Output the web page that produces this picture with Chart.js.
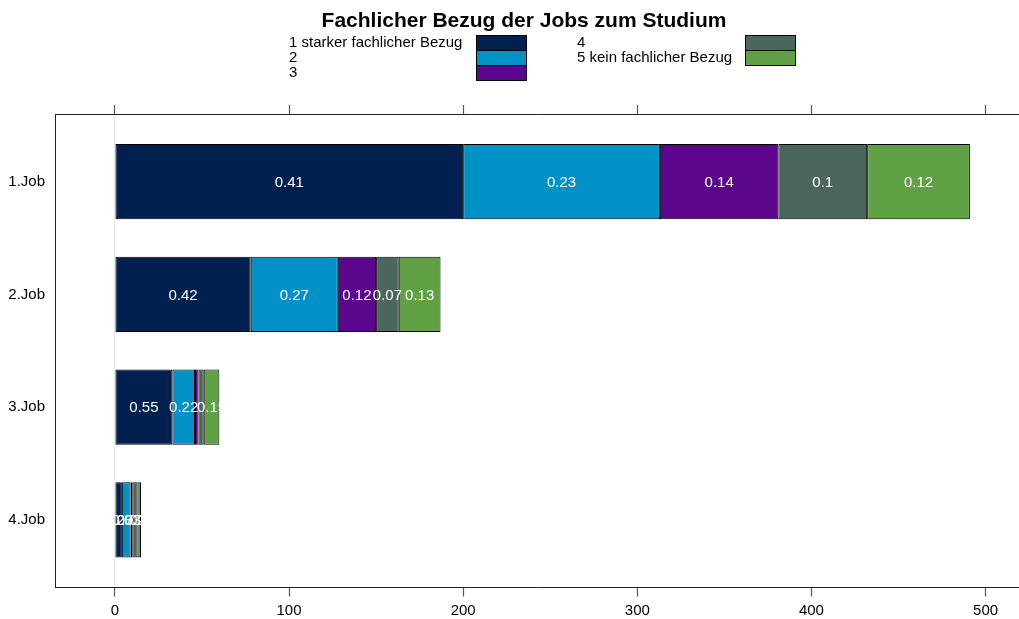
<!DOCTYPE html>
<html>
<head>
<meta charset="utf-8">
<script src="https://cdn.jsdelivr.net/npm/chart.js@4.4.1/dist/chart.umd.min.js"></script>
<style>
  html, body { margin: 0; padding: 0; background: #ffffff; }
  #wrap { width: 1019px; height: 619px; position: relative; }
</style>
</head>
<body>
<div id="wrap"><canvas id="c" width="1019" height="619"></canvas></div>
<script>
// ---- data ----
const chartTitle = 'Fachlicher Bezug der Jobs zum Studium';
const categories = ['1.Job', '2.Job', '3.Job', '4.Job'];
const seriesNames = ['1 starker fachlicher Bezug', '2', '3', '4', '5 kein fachlicher Bezug'];
const bezug1 = [200, 78, 33, 4];
const bezug2 = [113, 50, 13, 5];
const bezug3 = [68, 22, 2, 1];
const bezug4 = [51, 13, 3, 3];
const bezug5 = [59, 24, 9, 2];
const xTicks = [0, 100, 200, 300, 400, 500];
const seriesColors = ['#00214F', '#0092C7', '#5B068D', '#4A675B', '#61A146'];

const allSeries = [bezug1, bezug2, bezug3, bezug4, bezug5];
const rowTotals = categories.map((_, i) => allSeries.reduce((s, arr) => s + arr[i], 0));

const FONT = '"Liberation Sans", Arial, Helvetica, sans-serif';

const datasets = allSeries.map((arr, k) => ({
  label: seriesNames[k],
  data: arr.map((v, i) => ({ x: v, y: i + 1 })),
  backgroundColor: seriesColors[k],
  borderColor: '#000000',
  borderWidth: 1,
  borderSkipped: false,
  stack: 'all',
  categoryPercentage: 1,
  barPercentage: 2 / 3
}));

function fmt(v) {
  return String(Math.round(v * 100) / 100);
}

const decorPlugin = {
  id: 'decor',
  afterDatasetsDraw(chart) {
    const ctx = chart.ctx;
    ctx.save();
    ctx.fillStyle = '#ffffff';
    ctx.font = '15px ' + FONT;
    ctx.textAlign = 'center';
    ctx.textBaseline = 'middle';
    chart.data.datasets.forEach((ds, k) => {
      const meta = chart.getDatasetMeta(k);
      meta.data.forEach((el, i) => {
        const p = Math.round(allSeries[k][i] / rowTotals[i] * 100) / 100;
        if (p <= 0.05) return;
        const c = el.getCenterPoint();
        ctx.fillText(fmt(p), c.x, c.y + 1);
      });
    });
    ctx.restore();
  },
  afterDraw(chart) {
    const ctx = chart.ctx;
    ctx.save();
    // title
    ctx.fillStyle = '#000000';
    ctx.font = 'bold 21px ' + FONT;
    ctx.textAlign = 'center';
    ctx.textBaseline = 'alphabetic';
    ctx.fillText(chartTitle, 524, 27);
    // legend (two columns)
    const cols = [
      { tx: 289, rx: 476, items: [0, 1, 2] },
      { tx: 577, rx: 745, items: [3, 4] }
    ];
    ctx.font = '15px ' + FONT;
    ctx.textAlign = 'left';
    ctx.textBaseline = 'middle';
    cols.forEach(col => {
      col.items.forEach((k, r) => {
        const y0 = 35 + r * 15;
        const ds = chart.data.datasets[k];
        ctx.fillStyle = ds.backgroundColor;
        ctx.fillRect(col.rx, y0, 50, 15);
        ctx.strokeStyle = '#000000';
        ctx.lineWidth = 1;
        ctx.strokeRect(col.rx + 0.5, y0 + 0.5, 50, 15);
        ctx.fillStyle = '#000000';
        ctx.fillText(ds.label, col.tx, y0 + 7.5);
      });
    });
    ctx.restore();
  }
};

new Chart(document.getElementById('c'), {
  type: 'bar',
  data: { datasets },
  options: {
    indexAxis: 'y',
    responsive: false,
    animation: false,
    layout: { padding: 0 },
    plugins: { legend: { display: false }, title: { display: false }, tooltip: { enabled: false } },
    scales: {
      x: {
        type: 'linear',
        position: 'bottom',
        stacked: true,
        offset: false,
        min: -34.4,
        max: 519.2,
        afterBuildTicks: s => { s.ticks = xTicks.map(v => ({ value: v })); },
        afterFit: s => { s.height = 31.5; },
        grid: {
          drawOnChartArea: true,
          offset: false,
          color: c => (c.tick && c.tick.value === 0 ? '#e8e8e8' : 'rgba(0,0,0,0)'),
          tickColor: '#555555',
          tickLength: 9,
          tickWidth: 1.2
        },
        border: { display: true, color: '#222222', width: 1 },
        ticks: { color: '#000000', font: { family: FONT, size: 15 }, padding: 5, maxRotation: 0 }
      },
      x2: {
        type: 'linear',
        position: 'top',
        offset: false,
        min: -34.4,
        max: 519.2,
        afterBuildTicks: s => { s.ticks = xTicks.map(v => ({ value: v })); },
        afterFit: s => { s.height = 114; },
        grid: { drawOnChartArea: false, offset: false, tickColor: '#555555', tickLength: 9, tickWidth: 1.2 },
        border: { display: true, color: '#222222', width: 1 },
        ticks: { display: false }
      },
      y: {
        type: 'linear',
        position: 'left',
        stacked: true,
        reverse: true,
        offset: false,
        min: 0.4,
        max: 4.6,
        afterBuildTicks: s => { s.ticks = categories.map((_, i) => ({ value: i + 1 })); },
        afterFit: s => { s.width = 55; },
        grid: { display: true, offset: false, drawOnChartArea: false, drawTicks: false },
        border: { display: true, color: '#222222', width: 1 },
        ticks: {
          color: '#000000',
          font: { family: FONT, size: 15 },
          padding: 10,
          callback: v => categories[Math.round(v) - 1] || ''
        }
      }
    }
  },
  plugins: [decorPlugin]
});
</script>
</body>
</html>
